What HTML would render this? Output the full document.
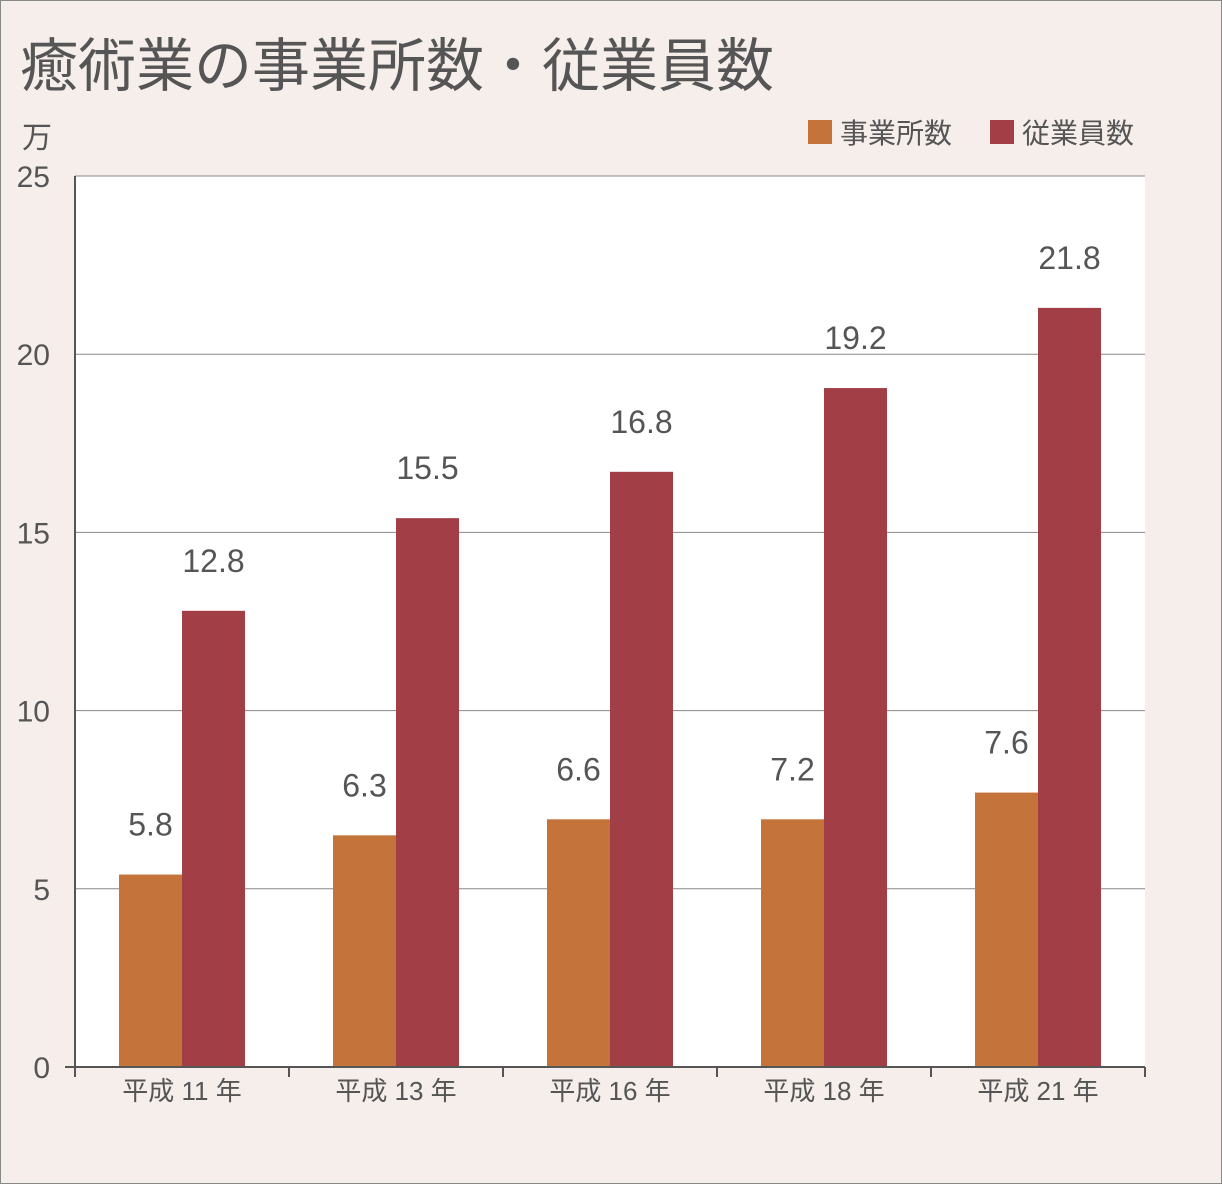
<!DOCTYPE html>
<html><head><meta charset="utf-8"><style>
body{margin:0;background:#f5eeeb;}
svg{display:block;font-family:"Liberation Sans","Noto Sans CJK JP",sans-serif;}
</style></head><body>
<svg width="1222" height="1184" viewBox="0 0 1222 1184">
<rect x="0" y="0" width="1222" height="1184" fill="#f5eeeb" stroke="#888" stroke-width="2"/>
<text x="20" y="86" font-size="58" fill="#555">癒術業の事業所数・従業員数</text>
<text x="22" y="148" font-size="30" fill="#555">万</text>
<g>
<rect x="808" y="120" width="24" height="24" fill="#c4733a"/>
<text x="840" y="143" font-size="28" fill="#555">事業所数</text>
<rect x="990" y="120" width="24" height="24" fill="#a23e45"/>
<text x="1022" y="143" font-size="28" fill="#555">従業員数</text>
</g>
<rect x="75" y="176" width="1070" height="891" fill="#fff"/>
<g id="grid"></g><g id="bars"></g><g id="labels"></g><g id="axes"></g>
</svg>
<script>
const categories=["平成 11 年","平成 13 年","平成 16 年","平成 18 年","平成 21 年"];
const officeValues=[5.4,6.5,6.95,6.95,7.7];
const employeeValues=[12.8,15.4,16.7,19.05,21.3];
const officeLabels=["5.8","6.3","6.6","7.2","7.6"];
const employeeLabels=["12.8","15.5","16.8","19.2","21.8"];
const yTicks=[0,5,10,15,20,25];
const NS="http://www.w3.org/2000/svg";
const X0=75,X1=1145,Y0=1067,Y1=176,YMAX=25;
const y=v=>Y0-(Y0-Y1)*v/YMAX;
const step=(X1-X0)/categories.length;
const cx=i=>X0+step*(i+0.5);
const BW=63;
function mk(tag,attrs,parent){const e=document.createElementNS(NS,tag);for(const k in attrs)e.setAttribute(k,attrs[k]);document.getElementById(parent).appendChild(e);return e;}
yTicks.forEach(t=>{
  if(t>0){const l=mk('line',{x1:X0,x2:X1,y1:y(t),y2:y(t),stroke:'#888','stroke-width':1},'grid');
  
  }
  const tx=mk('text',{x:50,y:y(t)+11,'font-size':30,fill:'#555','text-anchor':'end'},'axes');
  tx.textContent=t;
  
  
});
categories.forEach((c,i)=>{
  const a=mk('rect',{x:cx(i)-BW,y:y(officeValues[i]),width:BW,height:Y0-y(officeValues[i]),fill:'#c4733a'},'bars');
  
  
  const b=mk('rect',{x:cx(i),y:y(employeeValues[i]),width:BW,height:Y0-y(employeeValues[i]),fill:'#a23e45'},'bars');
  
  
  const la=mk('text',{x:cx(i)-BW/2,y:y(officeValues[i])-39,'font-size':32,fill:'#555','text-anchor':'middle'},'labels');
  la.textContent=officeLabels[i];
  
  
  const lb=mk('text',{x:cx(i)+BW/2,y:y(employeeValues[i])-39,'font-size':32,fill:'#555','text-anchor':'middle'},'labels');
  lb.textContent=employeeLabels[i];
  
  
  const xl=mk('text',{x:cx(i),y:1100,'font-size':26,fill:'#555','text-anchor':'middle'},'labels');
  xl.textContent=c;
  
  
});
for(let i=0;i<=categories.length;i++){
  const t=mk('line',{x1:X0+step*i,x2:X0+step*i,y1:Y0,y2:Y0+10,stroke:'#555','stroke-width':2},'axes');
  
  
}
const ya=mk('line',{x1:X0,x2:X0,y1:Y1,y2:Y0,stroke:'#555','stroke-width':2},'axes');


const xa=mk('line',{x1:65,x2:X1,y1:Y0,y2:Y0,stroke:'#555','stroke-width':2},'axes');


</script>
</body></html>
